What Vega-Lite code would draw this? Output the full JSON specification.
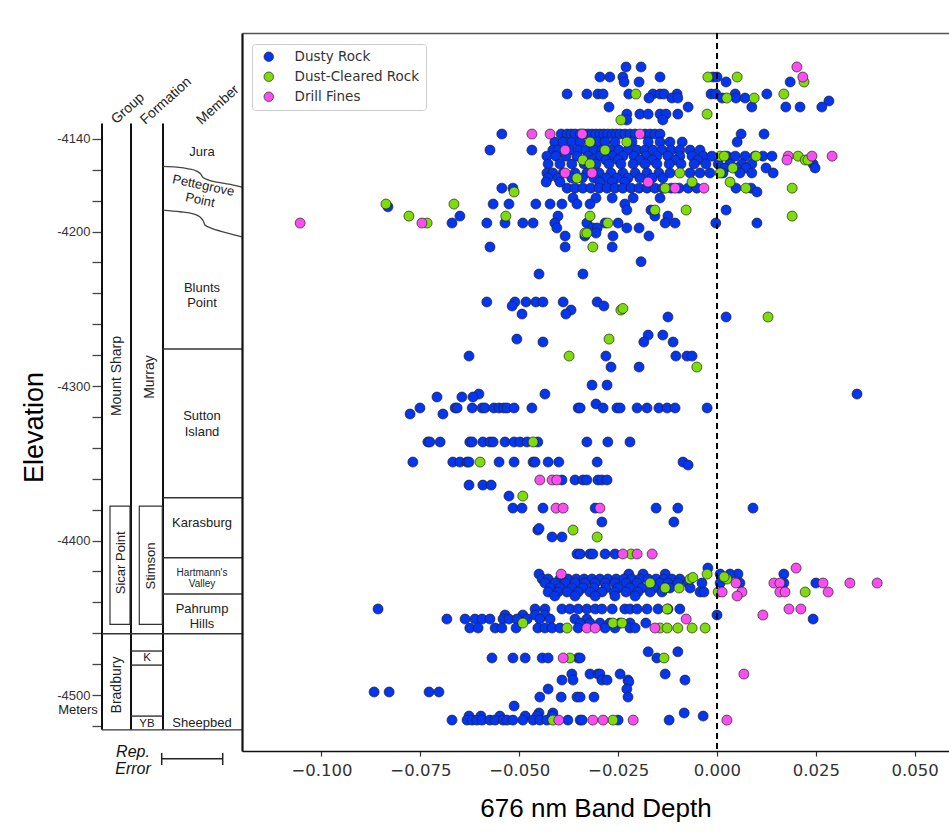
{
"$schema":"https://vega.github.io/schema/vega-lite/v6.json",
"autosize":{"type":"pad"},
"padding":{"left":20,"top":32,"right":0,"bottom":5},
"config":{"view":{"stroke":null},"font":"Liberation Sans"},
"spacing":0,
"bounds":"flush",
"resolve":{"scale":{"color":"independent"},"legend":{"color":"independent"}},
"hconcat":[
{
"width":140,"height":718,
"encoding":{
 "x":{"field":"x","type":"quantitative","scale":{"domain":[0,140],"nice":false,"zero":false},"axis":null},
 "y":{"field":"e","type":"quantitative","scale":{"domain":[-4536.2,-4071.5],"nice":false,"zero":false},
  "axis":{"title":"Elevation","values":[-4520,-4500,-4480,-4460,-4440,-4420,-4400,-4380,-4360,-4340,-4320,-4300,-4280,-4260,-4240,-4220,-4200,-4180,-4160,-4140],
  "labelExpr":"(datum.value == -4140 || datum.value % 100 == 0) ? '-' + abs(datum.value) : ''",
  "domain":false,"grid":false,"tickSize":10,"tickColor":"#444","tickWidth":1.3,"labelFont":"Liberation Sans","labelFontSize":13,"labelColor":"#333","labelPadding":2,
  "titleFont":"Liberation Sans","titleFontSize":27,"titleFontWeight":"normal","titleColor":"#000","titlePadding":8,"titleY":394}}
},
"layer":[
 {"data":{"values":[{"x":0,"e":-4130,"e2":-4522.5},{"x":29,"e":-4130,"e2":-4522.5},{"x":61,"e":-4130,"e2":-4522.5}]},
  "mark":{"type":"rule","color":"#111","strokeWidth":2},
  "encoding":{"y2":{"field":"e2"}}},
 {"data":{"values":[{"x":61,"x2":140,"e":-4276},{"x":61,"x2":140,"e":-4372.3},{"x":61,"x2":140,"e":-4411.1},{"x":61,"x2":140,"e":-4434.6},{"x":0,"x2":140,"e":-4460.3},{"x":0,"x2":140,"e":-4522.5},{"x":29,"x2":61,"e":-4471.5},{"x":29,"x2":61,"e":-4480.6},{"x":29,"x2":61,"e":-4513.6}]},
  "mark":{"type":"rule","color":"#333","strokeWidth":1.4},
  "encoding":{"x2":{"field":"x2"}}},
 {"data":{"values":[{"x":8,"x2":28,"e":-4377.7,"e2":-4454.2},{"x":37.3,"x2":60.3,"e":-4377.7,"e2":-4454.2}]},
  "mark":{"type":"rect","filled":false,"stroke":"#333","strokeWidth":1.2},
  "encoding":{"x2":{"field":"x2"},"y2":{"field":"e2"}}},
 {"data":{"values":[
  {"g":1,"x":61,"e":-4157.8},{"g":1,"x":74.7,"e":-4158.3},{"g":1,"x":86.3,"e":-4159.4},{"g":1,"x":94.7,"e":-4160.9},{"g":1,"x":99,"e":-4163.0},{"g":1,"x":100.5,"e":-4164.7},{"g":1,"x":104.7,"e":-4166.2},{"g":1,"x":118,"e":-4168.4},{"g":1,"x":131.3,"e":-4169.9},{"g":1,"x":140,"e":-4171.2},
  {"g":2,"x":61,"e":-4186.1},{"g":2,"x":78,"e":-4187.2},{"g":2,"x":91.3,"e":-4188.5},{"g":2,"x":98,"e":-4190.6},{"g":2,"x":101.3,"e":-4193.2},{"g":2,"x":103,"e":-4195.8},{"g":2,"x":108,"e":-4197.5},{"g":2,"x":124.7,"e":-4200.8},{"g":2,"x":140,"e":-4203.4}]},
  "mark":{"type":"line","color":"#444","strokeWidth":1.3,"interpolate":"monotone"},
  "encoding":{"detail":{"field":"g"}}},
 {"data":{"values":[{"x":59.7,"x2":120.7,"e":-4541.2}]},
  "mark":{"type":"rule","color":"#222","strokeWidth":1.5},
  "encoding":{"x2":{"field":"x2"}}},
 {"data":{"values":[{"x":59.7,"e":-4537.5,"e2":-4545.3},{"x":120.7,"e":-4537.5,"e2":-4545.3}]},
  "mark":{"type":"rule","color":"#222","strokeWidth":1.5},
  "encoding":{"y2":{"field":"e2"}}},
 {"data":{"values":[{"t":"Jura","x":100,"e":-4148.5},{"t":"Blunts","x":100,"e":-4236.6},{"t":"Point","x":100,"e":-4246.3},{"t":"Sutton","x":100,"e":-4319.4},{"t":"Island","x":100,"e":-4329.8},{"t":"Karasburg","x":100,"e":-4388.7},{"t":"Pahrump","x":100,"e":-4444.1},{"t":"Hills","x":100,"e":-4453.9},{"t":"Sheepbed","x":100,"e":-4518.1},{"t":"Meters","x":-24,"e":-4509.6}]},
  "mark":{"type":"text","font":"Liberation Sans","fontSize":13,"color":"#222","align":"center","baseline":"middle"},
  "encoding":{"text":{"field":"t"}}},
 {"data":{"values":[{"t":"Hartmann's","x":100,"e":-4420.8},{"t":"Valley","x":100,"e":-4428.0}]},
  "mark":{"type":"text","font":"Liberation Sans","fontSize":10,"color":"#222","align":"center","baseline":"middle"},
  "encoding":{"text":{"field":"t"}}},
 {"data":{"values":[{"t":"Pettegrove","x":101.3,"e":-4170.3},{"t":"Point","x":98,"e":-4179.7}]},
  "mark":{"type":"text","font":"Liberation Sans","fontSize":13,"color":"#222","align":"center","baseline":"middle","angle":12},
  "encoding":{"text":{"field":"t"}}},
 {"data":{"values":[{"t":"Mount Sharp","x":14.7,"e":-4293.5},{"t":"Murray","x":47.5,"e":-4294.2},{"t":"Bradbury","x":14.7,"e":-4493.5}]},
  "mark":{"type":"text","font":"Liberation Sans","fontSize":14,"color":"#222","align":"center","baseline":"middle","angle":270},
  "encoding":{"text":{"field":"t"}}},
 {"data":{"values":[{"t":"Sicar Point","x":18.5,"e":-4414.4},{"t":"Stimson","x":48.5,"e":-4416.5}]},
  "mark":{"type":"text","font":"Liberation Sans","fontSize":13,"color":"#222","align":"center","baseline":"middle","angle":270},
  "encoding":{"text":{"field":"t"}}},
 {"data":{"values":[{"t":"K","x":45,"e":-4476.0},{"t":"YB","x":45,"e":-4518.5}]},
  "mark":{"type":"text","font":"Liberation Sans","fontSize":11.5,"color":"#222","align":"center","baseline":"middle"},
  "encoding":{"text":{"field":"t"}}},
 {"data":{"values":[{"t":"Group","x":26,"e":-4120.4},{"t":"Formation","x":64,"e":-4115.5},{"t":"Member","x":116,"e":-4118.1}]},
  "mark":{"type":"text","font":"Liberation Sans","fontSize":14,"color":"#222","align":"center","baseline":"middle","angle":318},
  "encoding":{"text":{"field":"t"}}},
 {"data":{"values":[{"t":"Rep.","x":31,"e":-4536.7},{"t":"Error","x":31,"e":-4547.6}]},
  "mark":{"type":"text","font":"Liberation Sans","fontSize":16,"fontStyle":"italic","color":"#111","align":"center","baseline":"middle"},
  "encoding":{"text":{"field":"t"}}}
]
},
{
"width":707,"height":718,
"resolve":{"axis":{"x":"independent"}},
"layer":[
 {"data":{"values":[
{"x":-0.0230,"e":-4093.5,"c":"D"},{"x":-0.0192,"e":-4093.5,"c":"D"},
{"x":-0.0296,"e":-4100.0,"c":"D"},{"x":-0.0271,"e":-4100.0,"c":"D"},{"x":-0.0238,"e":-4100.0,"c":"D"},{"x":-0.0144,"e":-4100.0,"c":"D"},{"x":-0.0010,"e":-4100.0,"c":"D"},{"x":0,"e":-4100.0,"c":"D"},
{"x":-0.0235,"e":-4103.2,"c":"D"},{"x":-0.0197,"e":-4103.2,"c":"D"},{"x":0.0023,"e":-4103.2,"c":"D"},{"x":0.0185,"e":-4103.2,"c":"D"},
{"x":-0.0379,"e":-4111.0,"c":"D"},{"x":-0.0329,"e":-4111.0,"c":"D"},{"x":-0.0301,"e":-4111.0,"c":"D"},{"x":-0.0288,"e":-4111.0,"c":"D"},{"x":-0.0223,"e":-4111.0,"c":"D"},{"x":-0.0162,"e":-4111.0,"c":"D"},{"x":-0.0144,"e":-4111.0,"c":"D"},{"x":-0.0134,"e":-4111.0,"c":"D"},{"x":-0.0101,"e":-4111.0,"c":"D"},{"x":-0.0015,"e":-4111.0,"c":"D"},{"x":-0.0003,"e":-4111.0,"c":"D"},{"x":0.0046,"e":-4111.0,"c":"D"},{"x":0.0126,"e":-4111.0,"c":"D"},
{"x":-0.0172,"e":-4113.6,"c":"D"},{"x":-0.0114,"e":-4113.6,"c":"D"},{"x":-0.0099,"e":-4113.6,"c":"D"},{"x":0.0013,"e":-4113.6,"c":"D"},{"x":0.0048,"e":-4113.6,"c":"D"},{"x":0.0071,"e":-4113.6,"c":"D"},
{"x":0.0283,"e":-4115.5,"c":"D"},
{"x":-0.0273,"e":-4119.4,"c":"D"},{"x":-0.0073,"e":-4119.4,"c":"D"},{"x":0.0088,"e":-4119.4,"c":"D"},{"x":0.0174,"e":-4119.4,"c":"D"},{"x":0.0210,"e":-4119.4,"c":"D"},{"x":0.0265,"e":-4119.4,"c":"D"},
{"x":-0.0228,"e":-4124.0,"c":"D"},{"x":-0.0195,"e":-4124.0,"c":"D"},{"x":-0.0174,"e":-4124.0,"c":"D"},{"x":-0.0144,"e":-4124.0,"c":"D"},{"x":-0.0129,"e":-4124.0,"c":"D"},{"x":-0.0099,"e":-4124.0,"c":"D"},
{"x":-0.0228,"e":-4127.8,"c":"D"},{"x":-0.0137,"e":-4127.8,"c":"D"},
{"x":-0.0544,"e":-4136.9,"c":"D"},{"x":-0.0394,"e":-4136.9,"c":"D"},{"x":-0.0379,"e":-4136.9,"c":"D"},{"x":-0.0369,"e":-4136.9,"c":"D"},{"x":-0.0359,"e":-4136.9,"c":"D"},{"x":-0.0346,"e":-4136.9,"c":"D"},{"x":-0.0336,"e":-4136.9,"c":"D"},{"x":-0.0326,"e":-4136.9,"c":"D"},{"x":-0.0316,"e":-4136.9,"c":"D"},{"x":-0.0306,"e":-4136.9,"c":"D"},{"x":-0.0296,"e":-4136.9,"c":"D"},{"x":-0.0286,"e":-4136.9,"c":"D"},{"x":-0.0276,"e":-4136.9,"c":"D"},{"x":-0.0265,"e":-4136.9,"c":"D"},{"x":-0.0255,"e":-4136.9,"c":"D"},{"x":-0.0245,"e":-4136.9,"c":"D"},{"x":-0.0233,"e":-4136.9,"c":"D"},{"x":-0.0220,"e":-4136.9,"c":"D"},{"x":-0.0207,"e":-4136.9,"c":"D"},{"x":-0.0182,"e":-4136.9,"c":"D"},{"x":-0.0169,"e":-4136.9,"c":"D"},{"x":-0.0157,"e":-4136.9,"c":"D"},{"x":-0.0144,"e":-4136.9,"c":"D"},{"x":0.0061,"e":-4136.9,"c":"D"},{"x":0.0119,"e":-4136.9,"c":"D"},
{"x":0.0051,"e":-4142.1,"c":"D"},{"x":-0.0410,"e":-4142.1,"c":"D"},{"x":-0.0389,"e":-4142.1,"c":"D"},{"x":-0.0367,"e":-4142.1,"c":"D"},{"x":-0.0346,"e":-4142.1,"c":"D"},{"x":-0.0303,"e":-4142.1,"c":"D"},{"x":-0.0283,"e":-4142.1,"c":"D"},{"x":-0.0258,"e":-4142.1,"c":"D"},{"x":-0.0215,"e":-4142.1,"c":"D"},{"x":-0.0174,"e":-4142.1,"c":"D"},{"x":-0.0144,"e":-4142.1,"c":"D"},{"x":-0.0119,"e":-4142.1,"c":"D"},{"x":-0.0088,"e":-4142.1,"c":"D"},
{"x":-0.0574,"e":-4147.3,"c":"D"},{"x":-0.0468,"e":-4147.3,"c":"D"},{"x":-0.0415,"e":-4147.3,"c":"D"},{"x":-0.0402,"e":-4147.3,"c":"D"},{"x":-0.0372,"e":-4147.3,"c":"D"},{"x":-0.0351,"e":-4147.3,"c":"D"},{"x":-0.0331,"e":-4147.3,"c":"D"},{"x":-0.0311,"e":-4147.3,"c":"D"},{"x":-0.0291,"e":-4147.3,"c":"D"},{"x":-0.0268,"e":-4147.3,"c":"D"},{"x":-0.0248,"e":-4147.3,"c":"D"},{"x":-0.0225,"e":-4147.3,"c":"D"},{"x":-0.0202,"e":-4147.3,"c":"D"},{"x":-0.0182,"e":-4147.3,"c":"D"},{"x":-0.0162,"e":-4147.3,"c":"D"},{"x":-0.0139,"e":-4147.3,"c":"D"},{"x":-0.0116,"e":-4147.3,"c":"D"},{"x":-0.0094,"e":-4147.3,"c":"D"},{"x":-0.0068,"e":-4147.3,"c":"D"},{"x":-0.0043,"e":-4147.3,"c":"D"},
{"x":-0.0430,"e":-4151.2,"c":"D"},{"x":-0.0407,"e":-4151.2,"c":"D"},{"x":-0.0382,"e":-4151.2,"c":"D"},{"x":-0.0354,"e":-4151.2,"c":"D"},{"x":-0.0326,"e":-4151.2,"c":"D"},{"x":-0.0296,"e":-4151.2,"c":"D"},{"x":-0.0265,"e":-4151.2,"c":"D"},{"x":-0.0238,"e":-4151.2,"c":"D"},{"x":-0.0210,"e":-4151.2,"c":"D"},{"x":-0.0180,"e":-4151.2,"c":"D"},{"x":-0.0152,"e":-4151.2,"c":"D"},{"x":-0.0124,"e":-4151.2,"c":"D"},{"x":-0.0094,"e":-4151.2,"c":"D"},{"x":-0.0063,"e":-4151.2,"c":"D"},{"x":-0.0035,"e":-4151.2,"c":"D"},{"x":-0.0013,"e":-4151.2,"c":"D"},{"x":0.0025,"e":-4151.2,"c":"D"},{"x":0.0046,"e":-4151.2,"c":"D"},{"x":0.0071,"e":-4151.2,"c":"D"},{"x":0.0096,"e":-4151.2,"c":"D"},{"x":0.0116,"e":-4151.2,"c":"D"},{"x":0.0139,"e":-4151.2,"c":"D"},
{"x":-0.0316,"e":-4153.7,"c":"D"},{"x":-0.0281,"e":-4153.7,"c":"D"},{"x":-0.0250,"e":-4153.7,"c":"D"},{"x":-0.0195,"e":-4153.7,"c":"D"},{"x":-0.0164,"e":-4153.7,"c":"D"},{"x":-0.0106,"e":-4153.7,"c":"D"},{"x":-0.0048,"e":-4153.7,"c":"D"},
{"x":-0.0427,"e":-4156.3,"c":"D"},{"x":-0.0397,"e":-4156.3,"c":"D"},{"x":-0.0367,"e":-4156.3,"c":"D"},{"x":-0.0336,"e":-4156.3,"c":"D"},{"x":-0.0306,"e":-4156.3,"c":"D"},{"x":-0.0273,"e":-4156.3,"c":"D"},{"x":-0.0243,"e":-4156.3,"c":"D"},{"x":-0.0212,"e":-4156.3,"c":"D"},{"x":-0.0182,"e":-4156.3,"c":"D"},{"x":-0.0152,"e":-4156.3,"c":"D"},{"x":-0.0121,"e":-4156.3,"c":"D"},{"x":-0.0091,"e":-4156.3,"c":"D"},{"x":-0.0058,"e":-4156.3,"c":"D"},{"x":-0.0028,"e":-4156.3,"c":"D"},{"x":0.0003,"e":-4156.3,"c":"D"},{"x":0.0033,"e":-4156.3,"c":"D"},{"x":0.0063,"e":-4156.3,"c":"D"},{"x":0.0088,"e":-4156.3,"c":"D"},{"x":0.0243,"e":-4156.3,"c":"D"},
{"x":0.0248,"e":-4158.9,"c":"D"},{"x":0.0020,"e":-4158.9,"c":"D"},{"x":0.0048,"e":-4158.9,"c":"D"},{"x":0.0073,"e":-4158.9,"c":"D"},{"x":0.0124,"e":-4158.9,"c":"D"},
{"x":-0.0430,"e":-4162.1,"c":"D"},{"x":-0.0415,"e":-4162.1,"c":"D"},{"x":-0.0389,"e":-4162.1,"c":"D"},{"x":-0.0359,"e":-4162.1,"c":"D"},{"x":-0.0329,"e":-4162.1,"c":"D"},{"x":-0.0298,"e":-4162.1,"c":"D"},{"x":-0.0268,"e":-4162.1,"c":"D"},{"x":-0.0238,"e":-4162.1,"c":"D"},{"x":-0.0207,"e":-4162.1,"c":"D"},{"x":-0.0177,"e":-4162.1,"c":"D"},{"x":-0.0147,"e":-4162.1,"c":"D"},{"x":-0.0119,"e":-4162.1,"c":"D"},{"x":-0.0068,"e":-4162.1,"c":"D"},{"x":-0.0043,"e":-4162.1,"c":"D"},{"x":-0.0018,"e":-4162.1,"c":"D"},{"x":0.0015,"e":-4162.1,"c":"D"},{"x":0.0058,"e":-4162.1,"c":"D"},{"x":0.0088,"e":-4162.1,"c":"D"},{"x":0.0142,"e":-4162.1,"c":"D"},
{"x":-0.0427,"e":-4165.4,"c":"D"},{"x":-0.0402,"e":-4165.4,"c":"D"},{"x":-0.0367,"e":-4165.4,"c":"D"},{"x":-0.0341,"e":-4165.4,"c":"D"},{"x":-0.0311,"e":-4165.4,"c":"D"},{"x":-0.0281,"e":-4165.4,"c":"D"},{"x":-0.0253,"e":-4165.4,"c":"D"},{"x":-0.0225,"e":-4165.4,"c":"D"},{"x":-0.0195,"e":-4165.4,"c":"D"},{"x":-0.0164,"e":-4165.4,"c":"D"},{"x":-0.0137,"e":-4165.4,"c":"D"},
{"x":-0.0432,"e":-4168.0,"c":"D"},{"x":-0.0397,"e":-4168.0,"c":"D"},{"x":-0.0296,"e":-4168.0,"c":"D"},{"x":-0.0265,"e":-4168.0,"c":"D"},{"x":-0.0233,"e":-4168.0,"c":"D"},
{"x":-0.0544,"e":-4171.9,"c":"D"},{"x":-0.0516,"e":-4171.9,"c":"D"},{"x":-0.0379,"e":-4171.9,"c":"D"},{"x":-0.0359,"e":-4171.9,"c":"D"},{"x":-0.0339,"e":-4171.9,"c":"D"},{"x":-0.0319,"e":-4171.9,"c":"D"},{"x":-0.0298,"e":-4171.9,"c":"D"},{"x":-0.0278,"e":-4171.9,"c":"D"},{"x":-0.0258,"e":-4171.9,"c":"D"},{"x":-0.0238,"e":-4171.9,"c":"D"},{"x":-0.0217,"e":-4171.9,"c":"D"},{"x":-0.0197,"e":-4171.9,"c":"D"},{"x":-0.0177,"e":-4171.9,"c":"D"},{"x":-0.0157,"e":-4171.9,"c":"D"},{"x":-0.0137,"e":-4171.9,"c":"D"},{"x":-0.0116,"e":-4171.9,"c":"D"},{"x":-0.0096,"e":-4171.9,"c":"D"},{"x":-0.0073,"e":-4171.9,"c":"D"},{"x":-0.0051,"e":-4171.9,"c":"D"},{"x":0.0048,"e":-4171.9,"c":"D"},{"x":0.0086,"e":-4171.9,"c":"D"},
{"x":0.0101,"e":-4174.4,"c":"D"},
{"x":-0.0364,"e":-4178.3,"c":"D"},{"x":-0.0306,"e":-4178.3,"c":"D"},{"x":-0.0265,"e":-4178.3,"c":"D"},{"x":-0.0212,"e":-4178.3,"c":"D"},{"x":-0.0144,"e":-4178.3,"c":"D"},
{"x":-0.0566,"e":-4182.2,"c":"D"},{"x":-0.0526,"e":-4182.2,"c":"D"},{"x":-0.0458,"e":-4182.2,"c":"D"},{"x":-0.0422,"e":-4182.2,"c":"D"},{"x":-0.0392,"e":-4182.2,"c":"D"},{"x":-0.0354,"e":-4182.2,"c":"D"},{"x":-0.0321,"e":-4182.2,"c":"D"},{"x":-0.0233,"e":-4182.2,"c":"D"},
{"x":-0.0832,"e":-4184.0,"c":"D"},
{"x":-0.0228,"e":-4186.1,"c":"D"},{"x":-0.0167,"e":-4186.1,"c":"D"},{"x":0.0023,"e":-4186.1,"c":"D"},
{"x":-0.0650,"e":-4190.0,"c":"D"},{"x":-0.0402,"e":-4190.0,"c":"D"},{"x":-0.0157,"e":-4190.0,"c":"D"},{"x":-0.0124,"e":-4190.0,"c":"D"},
{"x":-0.0670,"e":-4194.5,"c":"D"},{"x":-0.0582,"e":-4194.5,"c":"D"},{"x":-0.0536,"e":-4194.5,"c":"D"},{"x":-0.0491,"e":-4194.5,"c":"D"},{"x":-0.0465,"e":-4194.5,"c":"D"},{"x":-0.0410,"e":-4194.5,"c":"D"},{"x":-0.0329,"e":-4194.5,"c":"D"},{"x":-0.0283,"e":-4194.5,"c":"D"},{"x":-0.0250,"e":-4194.5,"c":"D"},{"x":-0.0131,"e":-4194.5,"c":"D"},{"x":-0.0106,"e":-4194.5,"c":"D"},{"x":-0.0003,"e":-4194.5,"c":"D"},{"x":0.0101,"e":-4194.5,"c":"D"},
{"x":-0.0405,"e":-4197.7,"c":"D"},{"x":-0.0314,"e":-4197.7,"c":"D"},{"x":-0.0303,"e":-4197.7,"c":"D"},{"x":-0.0228,"e":-4197.7,"c":"D"},{"x":-0.0197,"e":-4197.7,"c":"D"},
{"x":-0.0306,"e":-4201.0,"c":"D"},
{"x":-0.0384,"e":-4202.9,"c":"D"},{"x":-0.0334,"e":-4202.9,"c":"D"},{"x":-0.0263,"e":-4202.9,"c":"D"},{"x":-0.0172,"e":-4202.9,"c":"D"},
{"x":-0.0574,"e":-4210.0,"c":"D"},{"x":-0.0384,"e":-4210.0,"c":"D"},{"x":-0.0265,"e":-4210.0,"c":"D"},
{"x":-0.0192,"e":-4219.5,"c":"D"},
{"x":-0.0450,"e":-4227.5,"c":"D"},{"x":-0.0339,"e":-4227.5,"c":"D"},
{"x":-0.0582,"e":-4245.6,"c":"D"},{"x":-0.0511,"e":-4245.6,"c":"D"},{"x":-0.0483,"e":-4245.6,"c":"D"},{"x":-0.0458,"e":-4245.6,"c":"D"},{"x":-0.0440,"e":-4245.6,"c":"D"},{"x":-0.0389,"e":-4245.6,"c":"D"},{"x":-0.0303,"e":-4245.6,"c":"D"},
{"x":-0.0518,"e":-4248.2,"c":"D"},{"x":-0.0286,"e":-4248.2,"c":"D"},
{"x":-0.0369,"e":-4250.8,"c":"D"},
{"x":-0.0493,"e":-4253.4,"c":"D"},{"x":-0.0382,"e":-4253.4,"c":"D"},
{"x":-0.0124,"e":-4255.3,"c":"D"},{"x":0.0023,"e":-4255.3,"c":"D"},
{"x":-0.0174,"e":-4267.0,"c":"D"},{"x":-0.0137,"e":-4267.0,"c":"D"},
{"x":-0.0506,"e":-4269.6,"c":"D"},
{"x":-0.0440,"e":-4271.5,"c":"D"},{"x":-0.0185,"e":-4271.5,"c":"D"},{"x":-0.0111,"e":-4271.5,"c":"D"},
{"x":-0.0627,"e":-4280.6,"c":"D"},{"x":-0.0281,"e":-4280.6,"c":"D"},{"x":-0.0104,"e":-4280.6,"c":"D"},{"x":-0.0076,"e":-4280.6,"c":"D"},{"x":-0.0063,"e":-4280.6,"c":"D"},
{"x":-0.0268,"e":-4287.7,"c":"D"},{"x":-0.0197,"e":-4287.7,"c":"D"},
{"x":-0.0316,"e":-4299.4,"c":"D"},{"x":-0.0278,"e":-4299.4,"c":"D"},
{"x":0.0354,"e":-4305.2,"c":"D"},{"x":-0.0435,"e":-4305.2,"c":"D"},{"x":-0.0602,"e":-4305.2,"c":"D"},
{"x":-0.0708,"e":-4307.1,"c":"D"},{"x":-0.0645,"e":-4307.1,"c":"D"},{"x":-0.0617,"e":-4307.1,"c":"D"},
{"x":-0.0306,"e":-4311.6,"c":"D"},
{"x":-0.0751,"e":-4314.2,"c":"D"},{"x":-0.0662,"e":-4314.2,"c":"D"},{"x":-0.0657,"e":-4314.2,"c":"D"},{"x":-0.0619,"e":-4314.2,"c":"D"},{"x":-0.0594,"e":-4314.2,"c":"D"},{"x":-0.0587,"e":-4314.2,"c":"D"},{"x":-0.0564,"e":-4314.2,"c":"D"},{"x":-0.0551,"e":-4314.2,"c":"D"},{"x":-0.0539,"e":-4314.2,"c":"D"},{"x":-0.0531,"e":-4314.2,"c":"D"},{"x":-0.0513,"e":-4314.2,"c":"D"},{"x":-0.0468,"e":-4314.2,"c":"D"},{"x":-0.0351,"e":-4314.2,"c":"D"},{"x":-0.0346,"e":-4314.2,"c":"D"},{"x":-0.0288,"e":-4314.2,"c":"D"},{"x":-0.0253,"e":-4314.2,"c":"D"},{"x":-0.0245,"e":-4314.2,"c":"D"},{"x":-0.0202,"e":-4314.2,"c":"D"},{"x":-0.0177,"e":-4314.2,"c":"D"},{"x":-0.0147,"e":-4314.2,"c":"D"},{"x":-0.0126,"e":-4314.2,"c":"D"},{"x":-0.0106,"e":-4314.2,"c":"D"},{"x":-0.0025,"e":-4314.2,"c":"D"},
{"x":-0.0776,"e":-4318.1,"c":"D"},{"x":-0.0693,"e":-4318.1,"c":"D"},
{"x":-0.0731,"e":-4336.2,"c":"D"},{"x":-0.0726,"e":-4336.2,"c":"D"},{"x":-0.0700,"e":-4336.2,"c":"D"},{"x":-0.0625,"e":-4336.2,"c":"D"},{"x":-0.0619,"e":-4336.2,"c":"D"},{"x":-0.0592,"e":-4336.2,"c":"D"},{"x":-0.0574,"e":-4336.2,"c":"D"},{"x":-0.0566,"e":-4336.2,"c":"D"},{"x":-0.0536,"e":-4336.2,"c":"D"},{"x":-0.0513,"e":-4336.2,"c":"D"},{"x":-0.0498,"e":-4336.2,"c":"D"},{"x":-0.0480,"e":-4336.2,"c":"D"},{"x":-0.0453,"e":-4336.2,"c":"D"},{"x":-0.0329,"e":-4336.2,"c":"D"},{"x":-0.0276,"e":-4336.2,"c":"D"},{"x":-0.0220,"e":-4336.2,"c":"D"},
{"x":-0.0769,"e":-4349.2,"c":"D"},{"x":-0.0668,"e":-4349.2,"c":"D"},{"x":-0.0650,"e":-4349.2,"c":"D"},{"x":-0.0632,"e":-4349.2,"c":"D"},{"x":-0.0627,"e":-4349.2,"c":"D"},{"x":-0.0551,"e":-4349.2,"c":"D"},{"x":-0.0513,"e":-4349.2,"c":"D"},{"x":-0.0465,"e":-4349.2,"c":"D"},{"x":-0.0460,"e":-4349.2,"c":"D"},{"x":-0.0427,"e":-4349.2,"c":"D"},{"x":-0.0400,"e":-4349.2,"c":"D"},{"x":-0.0303,"e":-4349.2,"c":"D"},{"x":-0.0086,"e":-4349.2,"c":"D"},{"x":-0.0073,"e":-4351.1,"c":"D"},
{"x":-0.0392,"e":-4360.8,"c":"D"},{"x":-0.0359,"e":-4360.8,"c":"D"},{"x":-0.0339,"e":-4360.8,"c":"D"},{"x":-0.0329,"e":-4360.8,"c":"D"},{"x":-0.0301,"e":-4360.8,"c":"D"},{"x":-0.0291,"e":-4360.8,"c":"D"},{"x":-0.0278,"e":-4360.8,"c":"D"},
{"x":-0.0627,"e":-4364.1,"c":"D"},{"x":-0.0592,"e":-4364.1,"c":"D"},{"x":-0.0571,"e":-4364.1,"c":"D"},
{"x":-0.0526,"e":-4371.2,"c":"D"},
{"x":-0.0516,"e":-4379.0,"c":"D"},{"x":-0.0493,"e":-4379.0,"c":"D"},{"x":-0.0440,"e":-4379.0,"c":"D"},{"x":-0.0308,"e":-4379.0,"c":"D"},{"x":-0.0154,"e":-4379.0,"c":"D"},{"x":-0.0099,"e":-4379.0,"c":"D"},{"x":0.0091,"e":-4379.0,"c":"D"},
{"x":-0.0291,"e":-4388.0,"c":"D"},{"x":-0.0109,"e":-4388.0,"c":"D"},
{"x":-0.0453,"e":-4393.2,"c":"D"},{"x":-0.0450,"e":-4392.2,"c":"D"},
{"x":-0.0417,"e":-4397.7,"c":"D"},{"x":-0.0392,"e":-4397.7,"c":"D"},
{"x":-0.0354,"e":-4408.7,"c":"D"},{"x":-0.0346,"e":-4408.7,"c":"D"},{"x":-0.0321,"e":-4408.7,"c":"D"},{"x":-0.0314,"e":-4408.7,"c":"D"},{"x":-0.0283,"e":-4408.7,"c":"D"},{"x":-0.0258,"e":-4408.7,"c":"D"},
{"x":-0.0023,"e":-4417.8,"c":"D"},
{"x":-0.0450,"e":-4421.7,"c":"D"},{"x":-0.0223,"e":-4421.7,"c":"D"},{"x":-0.0187,"e":-4421.7,"c":"D"},{"x":-0.0131,"e":-4421.7,"c":"D"},{"x":0.0053,"e":-4421.7,"c":"D"},{"x":0.0169,"e":-4421.7,"c":"D"},{"x":0.0008,"e":-4421.7,"c":"D"},{"x":0.0033,"e":-4421.7,"c":"D"},
{"x":-0.0442,"e":-4424.9,"c":"D"},{"x":-0.0427,"e":-4424.9,"c":"D"},{"x":-0.0397,"e":-4424.9,"c":"D"},{"x":-0.0377,"e":-4424.9,"c":"D"},{"x":-0.0356,"e":-4424.9,"c":"D"},{"x":-0.0336,"e":-4424.9,"c":"D"},{"x":-0.0316,"e":-4424.9,"c":"D"},{"x":-0.0296,"e":-4424.9,"c":"D"},{"x":-0.0276,"e":-4424.9,"c":"D"},{"x":-0.0255,"e":-4424.9,"c":"D"},{"x":-0.0235,"e":-4424.9,"c":"D"},{"x":-0.0215,"e":-4424.9,"c":"D"},{"x":-0.0195,"e":-4424.9,"c":"D"},{"x":-0.0174,"e":-4424.9,"c":"D"},{"x":-0.0154,"e":-4424.9,"c":"D"},{"x":-0.0134,"e":-4424.9,"c":"D"},{"x":-0.0114,"e":-4424.9,"c":"D"},{"x":-0.0094,"e":-4424.9,"c":"D"},
{"x":-0.0435,"e":-4427.5,"c":"D"},{"x":-0.0410,"e":-4427.5,"c":"D"},{"x":-0.0384,"e":-4427.5,"c":"D"},{"x":-0.0359,"e":-4427.5,"c":"D"},{"x":-0.0334,"e":-4427.5,"c":"D"},{"x":-0.0308,"e":-4427.5,"c":"D"},{"x":-0.0283,"e":-4427.5,"c":"D"},{"x":-0.0258,"e":-4427.5,"c":"D"},{"x":-0.0230,"e":-4427.5,"c":"D"},{"x":-0.0202,"e":-4427.5,"c":"D"},{"x":-0.0144,"e":-4427.5,"c":"D"},{"x":-0.0124,"e":-4427.5,"c":"D"},{"x":-0.0099,"e":-4427.5,"c":"D"},{"x":-0.0073,"e":-4427.5,"c":"D"},{"x":-0.0038,"e":-4427.5,"c":"D"},{"x":0.0008,"e":-4427.5,"c":"D"},{"x":0.0058,"e":-4427.5,"c":"D"},{"x":0.0169,"e":-4427.5,"c":"D"},{"x":0.0250,"e":-4427.5,"c":"D"},
{"x":-0.0422,"e":-4430.7,"c":"D"},{"x":-0.0397,"e":-4430.7,"c":"D"},{"x":-0.0367,"e":-4430.7,"c":"D"},{"x":-0.0339,"e":-4430.7,"c":"D"},{"x":-0.0311,"e":-4430.7,"c":"D"},{"x":-0.0281,"e":-4430.7,"c":"D"},{"x":-0.0250,"e":-4430.7,"c":"D"},{"x":-0.0220,"e":-4430.7,"c":"D"},{"x":-0.0190,"e":-4430.7,"c":"D"},{"x":-0.0159,"e":-4430.7,"c":"D"},{"x":-0.0119,"e":-4430.7,"c":"D"},{"x":-0.0068,"e":-4430.7,"c":"D"},
{"x":-0.0427,"e":-4433.3,"c":"D"},{"x":-0.0402,"e":-4433.3,"c":"D"},{"x":-0.0379,"e":-4433.3,"c":"D"},{"x":-0.0351,"e":-4433.3,"c":"D"},{"x":-0.0321,"e":-4433.3,"c":"D"},{"x":-0.0291,"e":-4433.3,"c":"D"},{"x":-0.0260,"e":-4433.3,"c":"D"},{"x":-0.0230,"e":-4433.3,"c":"D"},{"x":-0.0200,"e":-4433.3,"c":"D"},{"x":-0.0169,"e":-4433.3,"c":"D"},{"x":-0.0139,"e":-4433.3,"c":"D"},{"x":-0.0043,"e":-4433.3,"c":"D"},{"x":-0.0033,"e":-4433.3,"c":"D"},
{"x":-0.0410,"e":-4435.9,"c":"D"},{"x":-0.0359,"e":-4435.9,"c":"D"},{"x":-0.0308,"e":-4435.9,"c":"D"},{"x":-0.0258,"e":-4435.9,"c":"D"},{"x":-0.0207,"e":-4435.9,"c":"D"},
{"x":-0.0857,"e":-4444.3,"c":"D"},{"x":-0.0460,"e":-4444.3,"c":"D"},{"x":-0.0435,"e":-4444.3,"c":"D"},{"x":-0.0392,"e":-4444.3,"c":"D"},{"x":-0.0372,"e":-4444.3,"c":"D"},{"x":-0.0351,"e":-4444.3,"c":"D"},{"x":-0.0329,"e":-4444.3,"c":"D"},{"x":-0.0308,"e":-4444.3,"c":"D"},{"x":-0.0291,"e":-4444.3,"c":"D"},{"x":-0.0265,"e":-4444.3,"c":"D"},{"x":-0.0233,"e":-4444.3,"c":"D"},{"x":-0.0220,"e":-4444.3,"c":"D"},{"x":-0.0202,"e":-4444.3,"c":"D"},{"x":-0.0177,"e":-4444.3,"c":"D"},{"x":-0.0149,"e":-4444.3,"c":"D"},{"x":-0.0124,"e":-4444.3,"c":"D"},{"x":-0.0094,"e":-4444.3,"c":"D"},
{"x":-0.0536,"e":-4448.2,"c":"D"},{"x":-0.0491,"e":-4448.2,"c":"D"},{"x":-0.0460,"e":-4448.2,"c":"D"},{"x":-0.0435,"e":-4448.2,"c":"D"},{"x":0,"e":-4448.2,"c":"D"},
{"x":-0.0683,"e":-4450.8,"c":"D"},{"x":-0.0637,"e":-4450.8,"c":"D"},{"x":-0.0612,"e":-4450.8,"c":"D"},{"x":-0.0594,"e":-4450.8,"c":"D"},{"x":-0.0574,"e":-4450.8,"c":"D"},{"x":-0.0541,"e":-4450.8,"c":"D"},{"x":-0.0526,"e":-4450.8,"c":"D"},{"x":-0.0506,"e":-4450.8,"c":"D"},{"x":-0.0480,"e":-4450.8,"c":"D"},{"x":-0.0448,"e":-4450.8,"c":"D"},{"x":-0.0422,"e":-4450.8,"c":"D"},{"x":-0.0359,"e":-4450.8,"c":"D"},{"x":-0.0329,"e":-4450.8,"c":"D"},{"x":0.0243,"e":-4450.8,"c":"D"},
{"x":-0.0346,"e":-4453.4,"c":"D"},{"x":-0.0321,"e":-4453.4,"c":"D"},{"x":-0.0296,"e":-4453.4,"c":"D"},{"x":-0.0271,"e":-4453.4,"c":"D"},{"x":-0.0245,"e":-4453.4,"c":"D"},{"x":-0.0220,"e":-4453.4,"c":"D"},{"x":-0.0180,"e":-4453.4,"c":"D"},
{"x":-0.0625,"e":-4456.6,"c":"D"},{"x":-0.0604,"e":-4456.6,"c":"D"},{"x":-0.0561,"e":-4456.6,"c":"D"},{"x":-0.0544,"e":-4456.6,"c":"D"},{"x":-0.0508,"e":-4456.6,"c":"D"},{"x":-0.0453,"e":-4456.6,"c":"D"},{"x":-0.0435,"e":-4456.6,"c":"D"},{"x":-0.0417,"e":-4456.6,"c":"D"},{"x":-0.0397,"e":-4456.6,"c":"D"},{"x":-0.0351,"e":-4456.6,"c":"D"},{"x":-0.0283,"e":-4456.6,"c":"D"},{"x":-0.0258,"e":-4456.6,"c":"D"},{"x":-0.0220,"e":-4456.6,"c":"D"},{"x":-0.0207,"e":-4456.6,"c":"D"},
{"x":-0.0174,"e":-4472.0,"c":"D"},{"x":-0.0099,"e":-4472.0,"c":"D"},
{"x":-0.0569,"e":-4476.0,"c":"D"},{"x":-0.0516,"e":-4476.0,"c":"D"},{"x":-0.0485,"e":-4476.0,"c":"D"},{"x":-0.0442,"e":-4476.0,"c":"D"},{"x":-0.0427,"e":-4476.0,"c":"D"},{"x":-0.0351,"e":-4476.0,"c":"D"},{"x":-0.0346,"e":-4476.0,"c":"D"},{"x":-0.0152,"e":-4476.0,"c":"D"},
{"x":-0.0367,"e":-4486.4,"c":"D"},{"x":-0.0321,"e":-4486.4,"c":"D"},{"x":-0.0301,"e":-4486.4,"c":"D"},{"x":-0.0296,"e":-4486.4,"c":"D"},{"x":-0.0245,"e":-4486.4,"c":"D"},{"x":-0.0131,"e":-4486.4,"c":"D"},
{"x":-0.0392,"e":-4490.3,"c":"D"},{"x":-0.0364,"e":-4490.3,"c":"D"},{"x":-0.0291,"e":-4490.3,"c":"D"},{"x":-0.0278,"e":-4490.3,"c":"D"},{"x":-0.0225,"e":-4490.3,"c":"D"},{"x":-0.0223,"e":-4491.5,"c":"D"},{"x":-0.0081,"e":-4490.3,"c":"D"},
{"x":-0.0427,"e":-4496.1,"c":"D"},{"x":-0.0228,"e":-4496.1,"c":"D"},
{"x":-0.0867,"e":-4498.0,"c":"D"},{"x":-0.0829,"e":-4498.0,"c":"D"},{"x":-0.0728,"e":-4498.0,"c":"D"},{"x":-0.0703,"e":-4498.0,"c":"D"},
{"x":-0.0448,"e":-4501.3,"c":"D"},{"x":-0.0394,"e":-4501.3,"c":"D"},{"x":-0.0354,"e":-4501.3,"c":"D"},{"x":-0.0346,"e":-4501.3,"c":"D"},{"x":-0.0311,"e":-4501.3,"c":"D"},{"x":-0.0225,"e":-4501.3,"c":"D"},
{"x":-0.0513,"e":-4507.1,"c":"D"},
{"x":-0.0450,"e":-4511.6,"c":"D"},{"x":-0.0415,"e":-4511.6,"c":"D"},{"x":-0.0083,"e":-4511.6,"c":"D"},
{"x":-0.0627,"e":-4513.6,"c":"D"},{"x":-0.0597,"e":-4513.6,"c":"D"},{"x":-0.0549,"e":-4513.6,"c":"D"},{"x":-0.0485,"e":-4513.6,"c":"D"},{"x":-0.0455,"e":-4513.6,"c":"D"},{"x":-0.0417,"e":-4513.6,"c":"D"},{"x":-0.0035,"e":-4513.6,"c":"D"},
{"x":-0.0670,"e":-4516.2,"c":"D"},{"x":-0.0632,"e":-4516.2,"c":"D"},{"x":-0.0619,"e":-4516.2,"c":"D"},{"x":-0.0607,"e":-4516.2,"c":"D"},{"x":-0.0594,"e":-4516.2,"c":"D"},{"x":-0.0574,"e":-4516.2,"c":"D"},{"x":-0.0561,"e":-4516.2,"c":"D"},{"x":-0.0541,"e":-4516.2,"c":"D"},{"x":-0.0531,"e":-4516.2,"c":"D"},{"x":-0.0516,"e":-4516.2,"c":"D"},{"x":-0.0491,"e":-4516.2,"c":"D"},{"x":-0.0465,"e":-4516.2,"c":"D"},{"x":-0.0448,"e":-4516.2,"c":"D"},{"x":-0.0430,"e":-4516.2,"c":"D"},{"x":-0.0377,"e":-4516.2,"c":"D"},{"x":-0.0346,"e":-4516.2,"c":"D"},{"x":-0.0341,"e":-4516.2,"c":"D"},{"x":-0.0250,"e":-4516.2,"c":"D"},{"x":-0.0121,"e":-4516.2,"c":"D"},
{"x":-0.0023,"e":-4100.0,"c":"C"},{"x":0.0051,"e":-4100.0,"c":"C"},{"x":0.0220,"e":-4103.2,"c":"C"},{"x":-0.0205,"e":-4111.0,"c":"C"},{"x":0.0169,"e":-4111.0,"c":"C"},{"x":0.0025,"e":-4113.6,"c":"C"},{"x":0.0094,"e":-4113.6,"c":"C"},{"x":-0.0025,"e":-4124.0,"c":"C"},{"x":-0.0243,"e":-4127.8,"c":"C"},
{"x":-0.0321,"e":-4142.1,"c":"C"},{"x":-0.0228,"e":-4142.1,"c":"C"},{"x":-0.0283,"e":-4147.3,"c":"C"},{"x":0.0008,"e":-4151.2,"c":"C"},{"x":0.0205,"e":-4151.2,"c":"C"},{"x":0.0018,"e":-4151.2,"c":"C"},{"x":0.0099,"e":-4151.2,"c":"C"},{"x":-0.0339,"e":-4153.7,"c":"C"},{"x":0.0223,"e":-4153.7,"c":"C"},{"x":0.0230,"e":-4153.7,"c":"C"},{"x":-0.0321,"e":-4156.3,"c":"C"},{"x":0.0040,"e":-4158.9,"c":"C"},{"x":-0.0094,"e":-4162.1,"c":"C"},{"x":0.0008,"e":-4162.1,"c":"C"},{"x":-0.0354,"e":-4165.4,"c":"C"},{"x":-0.0063,"e":-4168.0,"c":"C"},{"x":0.0033,"e":-4168.0,"c":"C"},{"x":0.0073,"e":-4171.9,"c":"C"},{"x":0.0190,"e":-4171.9,"c":"C"},{"x":-0.0131,"e":-4171.9,"c":"C"},{"x":-0.0513,"e":-4174.4,"c":"C"},
{"x":-0.0837,"e":-4182.2,"c":"C"},{"x":-0.0665,"e":-4182.2,"c":"C"},{"x":-0.0157,"e":-4186.1,"c":"C"},{"x":-0.0078,"e":-4186.1,"c":"C"},{"x":-0.0779,"e":-4190.0,"c":"C"},{"x":-0.0534,"e":-4190.0,"c":"C"},{"x":-0.0321,"e":-4190.0,"c":"C"},{"x":0.0190,"e":-4190.0,"c":"C"},{"x":-0.0733,"e":-4194.5,"c":"C"},{"x":-0.0276,"e":-4194.5,"c":"C"},{"x":-0.0334,"e":-4201.0,"c":"C"},{"x":-0.0329,"e":-4201.0,"c":"C"},{"x":-0.0314,"e":-4210.0,"c":"C"},
{"x":-0.0243,"e":-4250.8,"c":"C"},{"x":-0.0238,"e":-4249.8,"c":"C"},{"x":0.0129,"e":-4255.3,"c":"C"},{"x":-0.0273,"e":-4269.6,"c":"C"},{"x":-0.0374,"e":-4280.6,"c":"C"},{"x":-0.0051,"e":-4287.7,"c":"C"},{"x":-0.0465,"e":-4336.2,"c":"C"},{"x":-0.0599,"e":-4349.2,"c":"C"},{"x":-0.0491,"e":-4371.2,"c":"C"},{"x":-0.0364,"e":-4393.2,"c":"C"},{"x":-0.0303,"e":-4397.7,"c":"C"},{"x":-0.0217,"e":-4408.7,"c":"C"},
{"x":-0.0025,"e":-4421.7,"c":"C"},{"x":-0.0068,"e":-4424.9,"c":"C"},{"x":-0.0061,"e":-4423.9,"c":"C"},{"x":0.0025,"e":-4424.9,"c":"C"},{"x":0.0018,"e":-4423.5,"c":"C"},{"x":-0.0169,"e":-4427.5,"c":"C"},{"x":-0.0131,"e":-4430.7,"c":"C"},{"x":-0.0096,"e":-4430.7,"c":"C"},{"x":0.0003,"e":-4433.3,"c":"C"},{"x":0.0223,"e":-4433.3,"c":"C"},{"x":-0.0126,"e":-4444.3,"c":"C"},
{"x":-0.0491,"e":-4453.4,"c":"C"},{"x":-0.0263,"e":-4453.4,"c":"C"},{"x":-0.0240,"e":-4453.4,"c":"C"},{"x":-0.0379,"e":-4456.6,"c":"C"},{"x":-0.0144,"e":-4456.6,"c":"C"},{"x":-0.0126,"e":-4456.6,"c":"C"},{"x":-0.0099,"e":-4456.6,"c":"C"},{"x":-0.0063,"e":-4456.6,"c":"C"},{"x":-0.0030,"e":-4456.6,"c":"C"},{"x":-0.0372,"e":-4476.0,"c":"C"},{"x":-0.0134,"e":-4476.0,"c":"C"},{"x":-0.0415,"e":-4516.2,"c":"C"},{"x":-0.0263,"e":-4516.2,"c":"C"},
{"x":0.0202,"e":-4093.5,"c":"F"},{"x":0.0217,"e":-4100.0,"c":"F"},{"x":-0.0468,"e":-4136.9,"c":"F"},{"x":-0.0422,"e":-4136.9,"c":"F"},{"x":-0.0195,"e":-4136.9,"c":"F"},{"x":-0.0341,"e":-4136.9,"c":"F"},{"x":-0.0384,"e":-4147.3,"c":"F"},{"x":0.0180,"e":-4151.2,"c":"F"},{"x":0.0240,"e":-4151.2,"c":"F"},{"x":0.0291,"e":-4151.2,"c":"F"},{"x":0.0177,"e":-4153.7,"c":"F"},{"x":-0.0384,"e":-4162.1,"c":"F"},{"x":-0.0316,"e":-4162.1,"c":"F"},{"x":-0.0174,"e":-4168.0,"c":"F"},{"x":-0.0106,"e":-4171.9,"c":"F"},{"x":-0.0033,"e":-4171.9,"c":"F"},
{"x":-0.1054,"e":-4194.5,"c":"F"},{"x":-0.0746,"e":-4194.5,"c":"F"},{"x":-0.0448,"e":-4360.8,"c":"F"},{"x":-0.0417,"e":-4360.8,"c":"F"},{"x":-0.0405,"e":-4360.8,"c":"F"},{"x":-0.0407,"e":-4379.0,"c":"F"},{"x":-0.0389,"e":-4379.0,"c":"F"},{"x":-0.0296,"e":-4379.0,"c":"F"},{"x":-0.0238,"e":-4408.7,"c":"F"},{"x":-0.0202,"e":-4408.7,"c":"F"},{"x":-0.0164,"e":-4408.7,"c":"F"},
{"x":0.0200,"e":-4417.8,"c":"F"},{"x":-0.0394,"e":-4421.7,"c":"F"},{"x":0.0048,"e":-4427.5,"c":"F"},{"x":0.0144,"e":-4427.5,"c":"F"},{"x":0.0159,"e":-4427.5,"c":"F"},{"x":0.0268,"e":-4427.5,"c":"F"},{"x":0.0336,"e":-4427.5,"c":"F"},{"x":0.0405,"e":-4427.5,"c":"F"},{"x":0.0013,"e":-4433.3,"c":"F"},{"x":0.0063,"e":-4433.3,"c":"F"},{"x":0.0159,"e":-4433.3,"c":"F"},{"x":0.0172,"e":-4433.3,"c":"F"},{"x":0.0281,"e":-4433.3,"c":"F"},{"x":0.0051,"e":-4435.9,"c":"F"},
{"x":0.0182,"e":-4444.3,"c":"F"},{"x":0.0212,"e":-4444.3,"c":"F"},{"x":0.0116,"e":-4448.2,"c":"F"},{"x":-0.0078,"e":-4450.8,"c":"F"},{"x":-0.0329,"e":-4456.6,"c":"F"},{"x":-0.0308,"e":-4456.6,"c":"F"},{"x":-0.0157,"e":-4456.6,"c":"F"},{"x":-0.0389,"e":-4476.0,"c":"F"},{"x":0.0068,"e":-4486.4,"c":"F"},{"x":-0.0400,"e":-4516.2,"c":"F"},{"x":-0.0314,"e":-4516.2,"c":"F"},{"x":-0.0288,"e":-4516.2,"c":"F"},{"x":-0.0212,"e":-4516.2,"c":"F"},{"x":0.0025,"e":-4516.2,"c":"F"}
 ]},
  "mark":{"type":"point","filled":true,"shape":"circle","size":100,"stroke":"#222","strokeWidth":0.7,"opacity":1},
  "encoding":{
   "x":{"field":"x","type":"quantitative","scale":{"domain":[-0.1201,0.05866],"nice":false,"zero":false},
    "axis":{"values":[-0.1,-0.075,-0.05,-0.025,0,0.025,0.05],"format":".3f","grid":false,"labelFont":"DejaVu Sans","labelFontSize":16.5,"labelColor":"#333","labelPadding":6,"tickColor":"#333","tickSize":5,"tickWidth":1.2,"domainColor":"#111","domainWidth":1.6,
     "title":"676 nm Band Depth","titleFont":"Liberation Sans","titleFontSize":26,"titleFontWeight":"normal","titleColor":"#000","titlePadding":17}},
   "y":{"field":"e","type":"quantitative","scale":{"domain":[-4536.2,-4071.5],"nice":false,"zero":false},
    "axis":{"ticks":false,"labels":false,"title":null,"grid":false,"domainColor":"#111","domainWidth":2.2}},
   "color":{"field":"c","type":"nominal","scale":{"domain":["D","C","F"],"range":["#0436f2","#7ddc0a","#fb4ef0"]},
    "legend":{"title":null,"orient":"none","legendX":10,"legendY":11,"labelExpr":"datum.label == 'D' ? 'Dusty Rock' : datum.label == 'C' ? 'Dust-Cleared Rock' : 'Drill Fines'",
     "labelFont":"DejaVu Sans","labelFontSize":13.5,"labelColor":"#333","symbolType":"circle","symbolSize":90,"symbolStrokeColor":"#222","symbolStrokeWidth":0.7,
     "strokeColor":"#cccccc","fillColor":"#ffffff","padding":6,"cornerRadius":3,"rowPadding":5,"labelOffset":19,"symbolOffset":4}}
  }},
 {"data":{"values":[{}]},
  "mark":{"type":"rule","strokeDash":[6,4],"strokeWidth":2,"color":"#000"},
  "encoding":{"x":{"datum":0,"type":"quantitative","axis":{"orient":"top","labels":false,"ticks":false,"title":null,"grid":false,"domainColor":"#555","domainWidth":1.6}}}}
]
}
]
}
